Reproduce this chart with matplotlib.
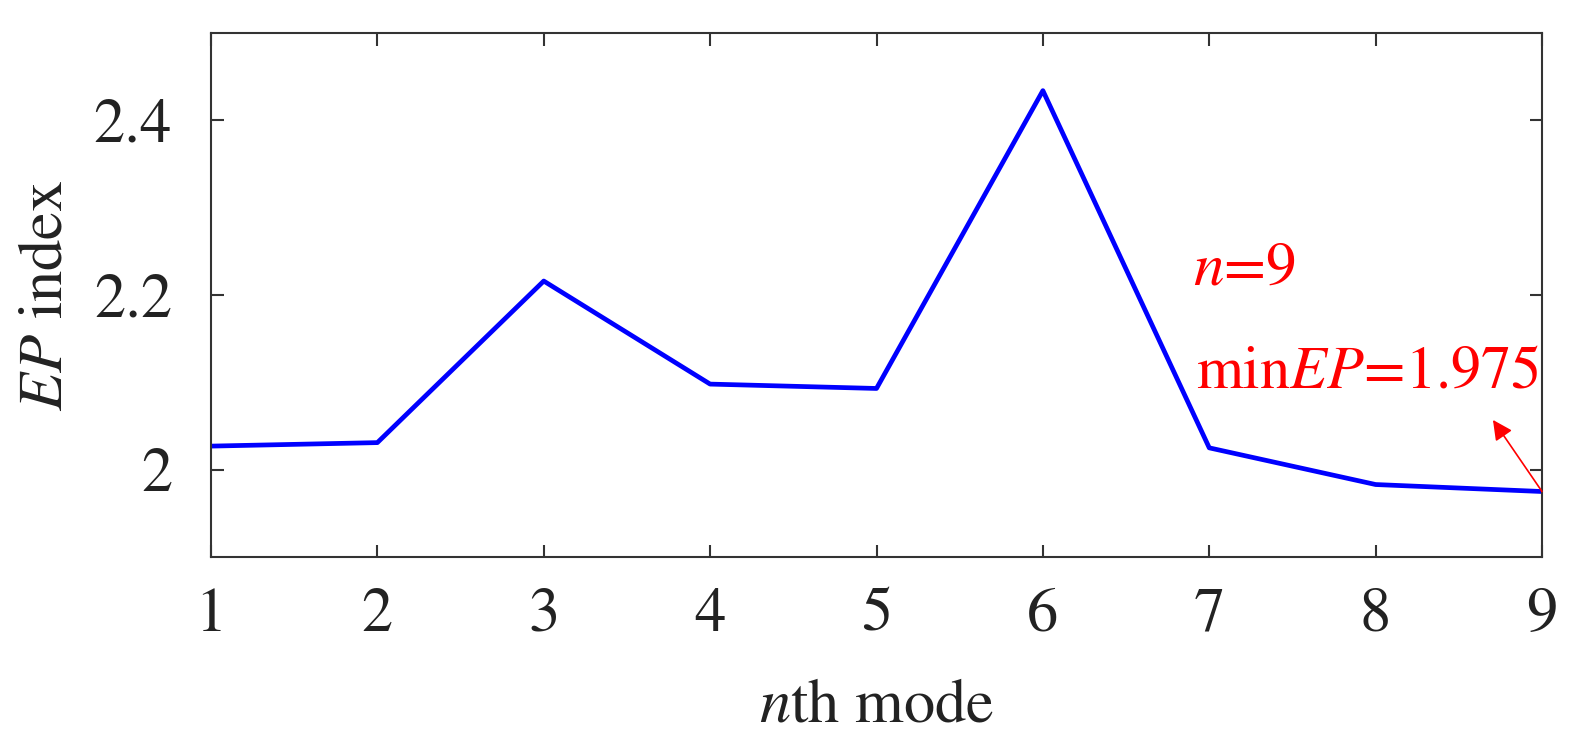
import matplotlib
matplotlib.use("Agg")
import matplotlib.pyplot as plt

modes = [1, 2, 3, 4, 5, 6, 7, 8, 9]
ep_index = [2.027, 2.031, 2.216, 2.098, 2.093, 2.434, 2.025, 1.983, 1.975]
x_ticks = [1, 2, 3, 4, 5, 6, 7, 8, 9]
y_ticks = [2.0, 2.2, 2.4]
y_tick_labels = ["2", "2.2", "2.4"]

plt.rcParams["font.family"] = ["STIXGeneral", "DejaVu Serif"]
plt.rcParams["mathtext.fontset"] = "stix"

fig = plt.figure(figsize=(15.84, 7.5), dpi=100)
ax = fig.add_axes([0.1332, 0.2573, 0.8403, 0.6987])

ax.plot(modes, ep_index, color="#0000ff", lw=3.4)

ax.set_xlim(1, 9)
ax.set_ylim(1.9, 2.5)
ax.set_xticks(x_ticks)
ax.set_yticks(y_ticks)
ax.set_yticklabels(y_tick_labels)

for s in ax.spines.values():
    s.set_color("#333333")
    s.set_linewidth(1.5)

ax.tick_params(direction="in", length=9, width=1.5, color="#333333",
               top=True, right=True, labelsize=45, labelcolor="#222222")
ax.tick_params(axis="x", pad=22)
ax.tick_params(axis="y", pad=28)

ax.set_xlabel("$n$th mode", fontsize=45, color="#222222", labelpad=24)
ax.set_ylabel("$EP$ index", fontsize=45, color="#222222", labelpad=13)

ax.text(6.9, 2.212, "$n$=9", color="red", fontsize=44)
ax.text(6.92, 2.094, "min$EP$=1.975", color="red", fontsize=43.5)
ax.annotate("", xy=(8.705, 2.057), xytext=(9, ep_index[-1]),
            arrowprops=dict(arrowstyle="-|>", color="red", lw=1.2,
                            mutation_scale=30, shrinkA=0, shrinkB=0))

fig.savefig("out.png", dpi=100)
